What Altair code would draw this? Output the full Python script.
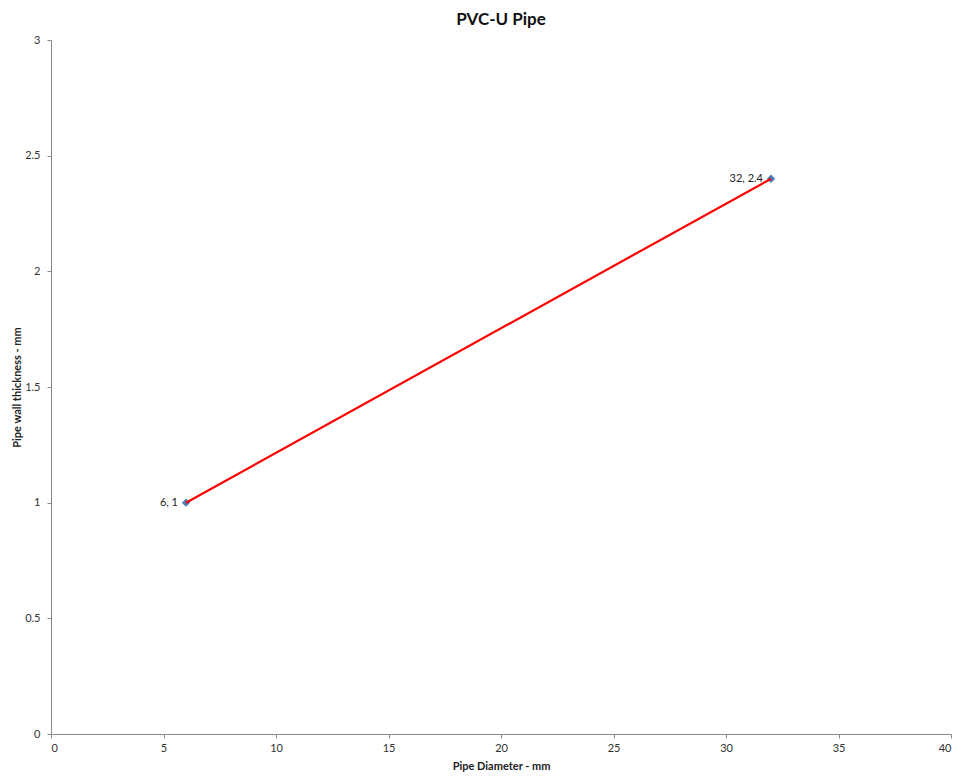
import altair as alt
import pandas as pd

diameters = [6, 32]
thicknesses = [1, 2.4]
point_labels = ["6, 1", "32, 2.4"]

df = pd.DataFrame({"d": diameters, "t": thicknesses, "lab": point_labels})

FONT = "Lato"

x_enc = alt.X("d:Q", scale=alt.Scale(domain=[0, 40], nice=False),
              axis=alt.Axis(title="Pipe Diameter - mm", values=[0, 5, 10, 15, 20, 25, 30, 35, 40],
                            grid=False, tickSize=4, labelPadding=4,
                            titleY=32, titleBaseline="middle"))
y_enc = alt.Y("t:Q", scale=alt.Scale(domain=[0, 3], nice=False),
              axis=alt.Axis(title="Pipe wall thickness - mm", values=[0, 0.5, 1, 1.5, 2, 2.5, 3],
                            format="~g",
                            grid=False, tickSize=4, labelPadding=7,
                            titleX=-34, titleY=347, titleAngle=270,
                            titleBaseline="middle", titleAlign="center"))

base = alt.Chart(df)

points = base.mark_point(shape="diamond", filled=True, size=70, color="#4A7EBB", opacity=1).encode(x=x_enc, y=y_enc)
line = base.mark_line(color="#FF0000", strokeWidth=2.2).encode(x="d:Q", y="t:Q")
texts = base.mark_text(align="right", baseline="middle", dx=-8, fontSize=11, font=FONT, color="#222222").encode(
    x="d:Q", y="t:Q", text="lab:N")

chart = alt.layer(points, line, texts).properties(
    width=900, height=694,
    title=alt.TitleParams("PVC-U Pipe", fontSize=17, font=FONT, fontWeight="bold", color="#111111",
                          anchor="middle", offset=5),
    autosize=alt.AutoSizeParams(type="none"),
    padding={"left": 43, "top": 32, "right": 4, "bottom": 38},
).configure_view(stroke=None).configure_axis(
    domainColor="#888888", tickColor="#888888", labelFont=FONT, labelFontSize=11,
    labelColor="#333333", titleFont=FONT, titleFontSize=11, titleFontWeight="bold",
    titleColor="#222222"
)

chart.save("out.html", embed_options={"renderer": "svg", "actions": False})
